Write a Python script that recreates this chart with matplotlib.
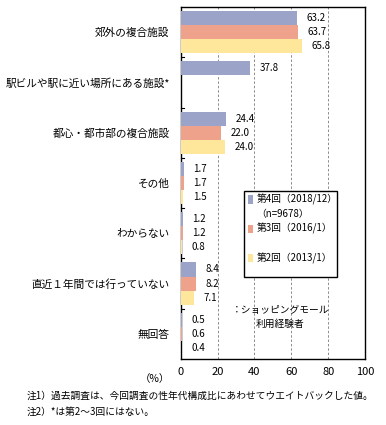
import numpy as np
import matplotlib
matplotlib.use("Agg")
import matplotlib.pyplot as plt
from matplotlib.patches import Rectangle

plt.rcParams['font.family'] = ['Noto Sans CJK JP', 'DejaVu Sans']

# data
categories = ["郊外の複合施設", "駅ビルや駅に近い場所にある施設*", "都心・都市部の複合施設",
              "その他", "わからない", "直近１年間では行っていない", "無回答"]
round4 = [63.2, 37.8, 24.4, 1.7, 1.2, 8.4, 0.5]
round3 = [63.7, None, 22.0, 1.7, 1.2, 8.2, 0.6]
round2 = [65.8, None, 24.0, 1.5, 0.8, 7.1, 0.4]
series_names = ["第4回（2018/12）", "第3回（2016/1）", "第2回（2013/1）"]
colors = ["#9ba3c9", "#eea18b", "#fee79a"]

fig = plt.figure(figsize=(3.86, 4.25), dpi=100)
ax = fig.add_axes([0.468, 0.1553, 0.4776, 0.8282])

n = len(categories)
bar_h = 0.28
offsets = [-bar_h, 0, bar_h]
for s, (vals, col) in enumerate(zip([round4, round3, round2], colors)):
    for i, v in enumerate(vals):
        if v is None:
            continue
        y = i + offsets[s]
        ax.barh(y, v, height=bar_h, color=col, edgecolor='none', zorder=3)
        ax.annotate(f"{v:.1f}", (v, y), xytext=(7, 0), textcoords='offset points',
                    ha='left', va='center', fontsize=7)

ax.set_ylim(n - 0.5, -0.5)
ax.set_xlim(0, 100)
ax.set_yticks(np.arange(n))
ax.set_yticklabels(categories, fontsize=7.7)
ax.tick_params(axis='y', length=0, pad=8)
# inward ticks at group boundaries
for b in np.arange(n - 1) + 0.5:
    ax.plot([0, 2], [b, b], color='black', lw=0.8, zorder=4, clip_on=False)
ax.set_xticks([0, 20, 40, 60, 80, 100])
ax.tick_params(axis='x', length=0, labelsize=8, pad=6)
ax.grid(axis='x', color='#8c8c8c', linestyle=(0, (2.5, 2)), lw=0.7, zorder=0)
for sp in ax.spines.values():
    sp.set_linewidth(1.0)

# legend box
ax.add_patch(Rectangle((0.343, 0.233), 0.505, 0.244, transform=ax.transAxes,
                       facecolor='white', edgecolor='black', lw=1.0, zorder=5))
leg_rows = [(0.453, series_names[0], colors[0]), (0.412, "（n=9678）", None),
            (0.370, series_names[1], colors[1]), (0.287, series_names[2], colors[2])]
for y, txt, col in leg_rows:
    if col is not None:
        ax.add_patch(Rectangle((0.365, y - 0.012), 0.03, 0.024, transform=ax.transAxes,
                               facecolor=col, edgecolor='none', zorder=6))
    ax.text(0.41, y, txt, transform=ax.transAxes,
            fontsize=7, va='center', ha='left', zorder=6)

ax.text(0.54, 0.12, "：ショッピングモール\n利用経験者", transform=ax.transAxes,
        fontsize=7, ha='center', va='center', linespacing=1.5, zorder=6)

fig.text(155 / 386, 1 - 379 / 425, "（%）", fontsize=7.5, ha='center', va='center')
fig.text(27 / 386, 1 - 396 / 425, "注1）過去調査は、今回調査の性年代構成比にあわせてウエイトバックした値。",
         fontsize=7, ha='left', va='center')
fig.text(27 / 386, 1 - 412 / 425, "注2）*は第2～3回にはない。", fontsize=7, ha='left', va='center')

fig.savefig("out.png", dpi=100)
